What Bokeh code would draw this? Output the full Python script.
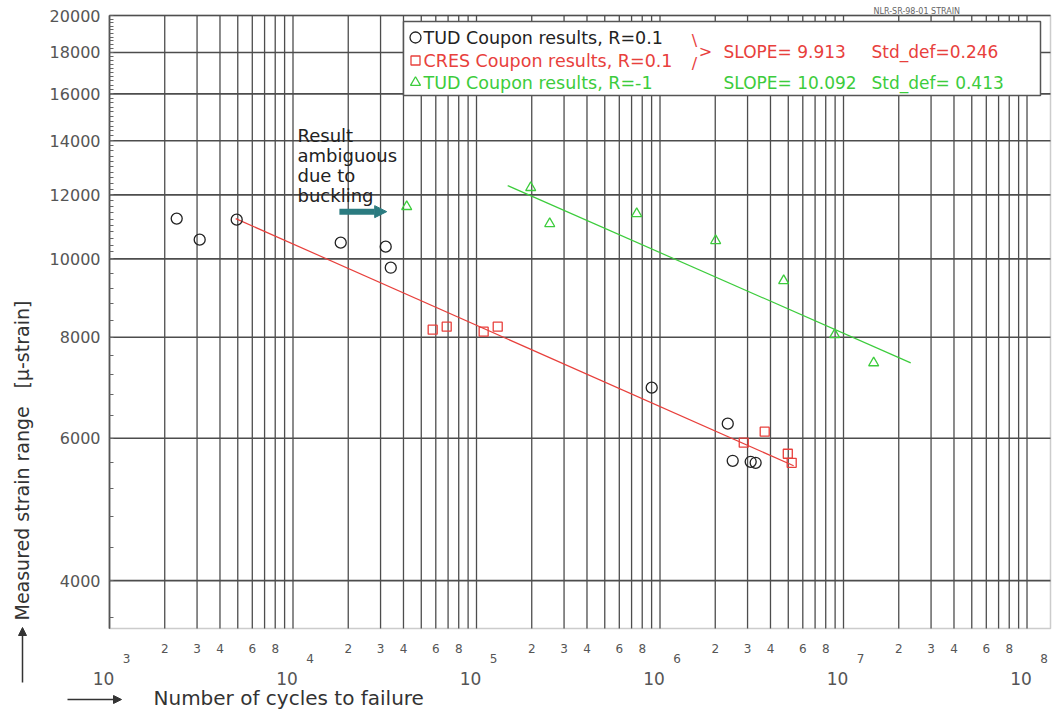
from math import log10, pi
from bokeh.plotting import figure
from bokeh.models import (FixedTicker, Label, BoxAnnotation, Arrow, NormalHead,
                          PrintfTickFormatter, Range1d)
from bokeh.embed import file_html
from bokeh.resources import INLINE

# ---------------- data ----------------
tud_r01_cycles = [2324, 3101, 4934, 18200, 32000, 34100, 901000, 2.34e6, 2.49e6, 3.12e6, 3.32e6]
tud_r01_strain = [11215, 10563, 11182, 10473, 10355, 9752, 6929, 6254, 5627, 5611, 5595]

cres_r01_cycles = [57700, 68800, 109400, 130500, 2.86e6, 3.72e6, 4.97e6, 5.22e6]
cres_r01_strain = [8174, 8245, 8128, 8245, 5924, 6113, 5741, 5595]

tud_rm1_cycles = [41650, 197400, 250600, 746500, 2.01e6, 4.72e6, 8.95e6, 1.46e7]
tud_rm1_strain = [11605, 12250, 11055, 11375, 10533, 9398, 8058, 7437]

fit_r01_cycles = [4873, 5.35e6]
fit_r01_strain = [11215, 5547]
fit_rm1_cycles = [1.479e5, 2.324e7]
fit_rm1_strain = [12320, 7437]

buckling_arrow_cycles = [17900, 32400]
buckling_arrow_strain = 11440

y_major_ticks = [4000, 6000, 8000, 10000, 12000, 14000, 16000, 18000, 20000]
y_minor_ticks = list(range(3600, 10000, 400)) + list(range(10000, 20001, 200))
x_decades = [1e3, 1e4, 1e5, 1e6, 1e7, 1e8]
x_exponents = ["3", "4", "5", "6", "7", "8"]
x_minor_digits = [2, 3, 4, 5, 6, 7, 8, 9]
x_minor_labels = [2, 3, 4, 6, 8]

legend_rows = ["TUD Coupon results, R=0.1", "CRES Coupon results, R=0.1", "TUD Coupon results, R=-1"]
slope_r01 = "SLOPE= 9.913"
std_r01 = "Std_def=0.246"
slope_rm1 = "SLOPE= 10.092"
std_rm1 = "Std_def= 0.413"

# ---------------- layout ----------------
W, H = 1052, 711
L, R, T, B = 109, 1050, 15, 628          # inner plotting box, pixels
X0, X1 = 1e3, 10 ** 8.128                # inner box, data
Y0, Y1 = 3490, 20000

FONT = "DejaVu Sans"
BLACK = "#222222"
RED = "#e8403c"
GREEN = "#3ccc3c"
GRID = "#4d4d4d"
TEAL = "#2b7b80"
AXIS_TXT = "#555555"


def dx(px):
    return 10 ** (log10(X0) + (px - L) / (R - L) * (log10(X1) - log10(X0)))


def dy(py):
    return 10 ** (log10(Y1) - (py - T) / (B - T) * (log10(Y1) - log10(Y0)))


p = figure(width=W, height=H, x_axis_type="log", y_axis_type="log",
           x_range=Range1d(dx(0), dx(W)), y_range=Range1d(dy(H), dy(0)),
           output_backend="svg", toolbar_location=None, min_border=0)
p.background_fill_color = "white"
p.border_fill_color = "white"
p.outline_line_color = None
p.grid.visible = False

# ---- grid lines (drawn from the tick lists) ----
x_grid = [d * k for d in x_decades[:-1] for k in [1] + x_minor_digits] + [x_decades[-1]]
p.segment(x0=x_grid, y0=[Y0] * len(x_grid), x1=x_grid, y1=[Y1] * len(x_grid),
          line_color=GRID, line_width=1.3)
p.segment(x0=[X0] * len(y_major_ticks), y0=y_major_ticks,
          x1=[X1] * len(y_major_ticks), y1=y_major_ticks,
          line_color=GRID, line_width=1.7)

# ---- y axis ----
p.yaxis.fixed_location = X0
p.yaxis.bounds = (Y0, Y1)
yt = FixedTicker(ticks=y_major_ticks, minor_ticks=y_minor_ticks)
p.yaxis.ticker = yt
p.yaxis.formatter = PrintfTickFormatter(format="%d")
p.yaxis.major_label_text_font = FONT
p.yaxis.major_label_text_font_size = "16px"
p.yaxis.major_label_text_color = AXIS_TXT
p.yaxis.major_label_standoff = 9
p.yaxis.axis_line_color = "#555555"
p.yaxis.axis_line_width = 1.5
p.yaxis.major_tick_in = 0
p.yaxis.major_tick_out = 0
p.yaxis.minor_tick_in = 4
p.yaxis.minor_tick_out = 0
p.yaxis.minor_tick_line_color = "#666666"

# ---- x axis: the 2 3 4 6 8 labels of each decade ----
x_label_pos = [d * k for d in x_decades[:-1] for k in x_minor_labels]
p.xaxis.fixed_location = Y0
p.xaxis.bounds = (X0, X1)
p.xaxis.ticker = FixedTicker(ticks=x_label_pos, minor_ticks=[])
p.xaxis.major_label_overrides = {v: str(k) for v, k in
                                 zip(x_label_pos, x_minor_labels * (len(x_decades) - 1))}
p.xaxis.major_label_text_font = FONT
p.xaxis.major_label_text_font_size = "12px"
p.xaxis.major_label_text_color = AXIS_TXT
p.xaxis.major_label_standoff = 15
p.xaxis.major_tick_in = 0
p.xaxis.major_tick_out = 0
p.xaxis.minor_tick_in = 0
p.xaxis.minor_tick_out = 0
p.xaxis.axis_line_color = None

# ---- inner box outline ----
p.add_layout(BoxAnnotation(left=X0, right=X1, bottom=Y0, top=Y1, fill_alpha=0,
                           fill_color=None, line_color="#555555", line_width=1.5))

# ---- legend box (glyph, so that markers sit above it) ----
p.quad(left=[dx(403)], right=[dx(1040)], top=[dy(21)], bottom=[dy(95)],
       fill_color="white", line_color="#555555", line_width=1.5)

# ---- fit lines ----
p.line(fit_r01_cycles, fit_r01_strain, line_color=RED, line_width=1.2)
p.line(fit_rm1_cycles, fit_rm1_strain, line_color=GREEN, line_width=1.2)

# ---- data points ----
p.scatter(tud_r01_cycles, tud_r01_strain, marker="circle", size=11,
          fill_color=None, line_color=BLACK, line_width=1.3)
p.scatter(cres_r01_cycles, cres_r01_strain, marker="square", size=9,
          fill_color=None, line_color=RED, line_width=1.3)
p.scatter(tud_rm1_cycles, tud_rm1_strain, marker="triangle", size=10,
          fill_color=None, line_color=GREEN, line_width=1.3)

# ---- legend ----
row_y = [37, 60, 82]
p.scatter([dx(415)], [dy(row_y[0])], marker="circle", size=11, fill_color=None,
          line_color=BLACK, line_width=1.3)
p.scatter([dx(415)], [dy(row_y[1])], marker="square", size=9, fill_color=None,
          line_color=RED, line_width=1.3)
p.scatter([dx(415)], [dy(row_y[2])], marker="triangle", size=10, fill_color=None,
          line_color=GREEN, line_width=1.3)


def lab(text, px, py, size, color, align="left", angle=0.0, x_off=0):
    p.add_layout(Label(x=dx(px), y=dy(py), x_offset=x_off, text=text, text_font=FONT,
                       text_font_size=size, text_color=color, text_align=align,
                       text_baseline="middle", angle=angle))


for txt, yy, col in zip(legend_rows, row_y, [BLACK, RED, GREEN]):
    lab(txt, 423, yy, "17.5px", col)
lab("\\", 694, 40, "16px", RED, align="center")
lab(">", 705, 51, "16px", RED, align="center")
lab("/", 694, 63, "16px", RED, align="center")
lab(slope_r01, 723, 51, "17px", RED)
lab(std_r01, 871, 51, "17px", RED)
lab(slope_rm1, 723, 82, "17px", GREEN)
lab(std_rm1, 871, 82, "17px", GREEN)

# small reference text at top right
lab("NLR-SR-98-01 STRAIN", 873, 11, "8px", "#666666")

# ---- annotation about buckling ----
for i, t in enumerate(["Result", "ambiguous", "due to", "buckling"]):
    lab(t, 297, 135 + 20 * i, "18px", BLACK)
p.add_layout(Arrow(end=NormalHead(size=12, fill_color=TEAL, line_color=TEAL),
                   x_start=buckling_arrow_cycles[0], y_start=buckling_arrow_strain,
                   x_end=buckling_arrow_cycles[1], y_end=buckling_arrow_strain,
                   line_color=TEAL, line_width=6))

# ---- decade labels 10^n ----
for d, e in zip(x_decades, x_exponents):
    p.add_layout(Label(x=d, y=dy(678), x_offset=-6, text="10", text_font=FONT,
                       text_font_size="17px", text_color=AXIS_TXT,
                       text_align="center", text_baseline="middle"))
    p.add_layout(Label(x=d, y=dy(658), x_offset=17, text=e, text_font=FONT,
                       text_font_size="12px", text_color=AXIS_TXT,
                       text_align="center", text_baseline="middle"))

# ---- axis titles ----
lab("Number of cycles to failure", 153, 697, "20px", "#333333")
lab("Measured strain range", 21, 620, "19px", "#333333", angle=pi / 2)
lab("[µ-strain]", 21, 388, "19px", "#333333", angle=pi / 2)

# ---- axis arrows ----
p.add_layout(Arrow(end=NormalHead(size=8, fill_color="#333333", line_color="#333333"),
                   x_start=dx(22), y_start=dy(682), x_end=dx(22), y_end=dy(627),
                   line_color="#333333", line_width=1.5))
p.add_layout(Arrow(end=NormalHead(size=8, fill_color="#333333", line_color="#333333"),
                   x_start=dx(67), y_start=dy(699), x_end=dx(121), y_end=dy(699),
                   line_color="#333333", line_width=1.5))

open("out.html", "w").write(file_html(p, INLINE))
